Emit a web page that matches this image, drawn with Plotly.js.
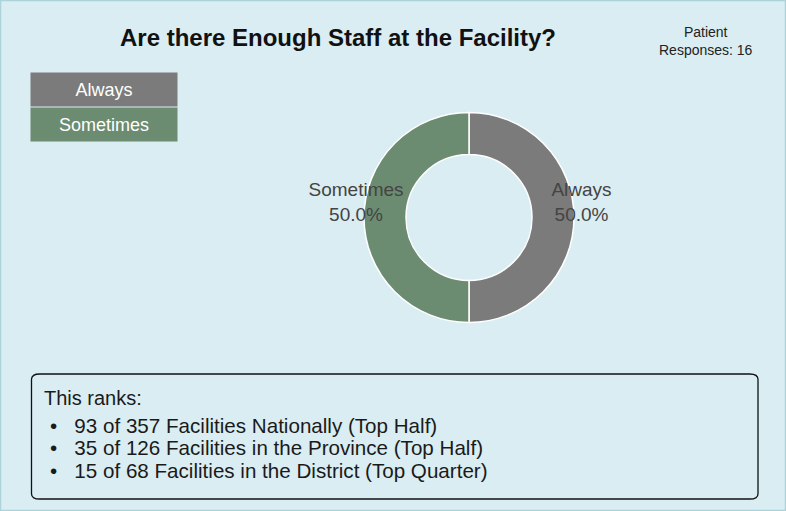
<!DOCTYPE html>
<html>
<head>
<meta charset="utf-8">
<script src="https://cdn.plot.ly/plotly-3.0.1.min.js"></script>
<style>html,body{margin:0;padding:0;background:#daedf2;}</style>
</head>
<body>
<div id="chart" style="width:786px;height:511px;"></div>
<script>
const categories = ["Always", "Sometimes"];
const counts = [8, 8];
const sliceColors = ["#7b7b7b", "#6b8c71"];
const chartTitle = "Are there Enough Staff at the Facility?";
const responsesText = "Patient<br>Responses: 16";
const rankHeader = "This ranks:";
const rankLines = [
  "93 of 357 Facilities Nationally (Top Half)",
  "35 of 126 Facilities in the Province (Top Half)",
  "15 of 68 Facilities in the District (Top Quarter)"
];

const W = 786, H = 511;
const px = v => v / W, py = v => 1 - v / H;
const FONT = "Arial, 'Liberation Sans', sans-serif";

// donut ring
const ring = {
  type: "pie",
  labels: categories,
  values: counts,
  marker: {colors: sliceColors, line: {color: "#ffffff", width: 1.5}},
  hole: 0.6,
  sort: false,
  direction: "clockwise",
  rotation: 0,
  textinfo: "none",
  showlegend: false,
  automargin: false,
  hoverinfo: "skip",
  domain: {x: [px(364), px(574)], y: [py(322.5), py(112.5)]}
};

// label layers for the same data (transparent slices, one label each)
const labelRadius = [71, 54];
const labelLayers = categories.map((c, k) => ({
  type: "pie",
  labels: categories,
  values: counts,
  marker: {colors: categories.map(() => "rgba(0,0,0,0)"), line: {width: 0}},
  sort: false,
  direction: "clockwise",
  rotation: 0,
  texttemplate: categories.map((_, i) => i === k ? "%{label}<br>%{percent:.1%}" : ""),
  textposition: "outside",
  outsidetextfont: {family: FONT, size: 19, color: "#444"},
  showlegend: false,
  automargin: false,
  hoverinfo: "skip",
  domain: {x: [px(469 - labelRadius[k]), px(469 + labelRadius[k])],
           y: [py(202 + labelRadius[k]), py(202 - labelRadius[k])]}
}));

const legendAnn = categories.map((c, i) => ({
  text: c,
  xref: "paper", yref: "paper",
  x: px(30), y: py(72 + i * 35),
  xanchor: "left", yanchor: "top",
  showarrow: false,
  width: 146, height: 33,
  borderpad: 0,
  bgcolor: sliceColors[i],
  font: {family: FONT, size: 18, color: "#ffffff"}
}));

const rankAnn = [{
  text: rankHeader, xref: "paper", yref: "paper", x: px(42), y: py(397.5),
  xanchor: "left", yanchor: "middle", showarrow: false, align: "left",
  font: {family: FONT, size: 20, color: "#1a1a1a"}
}].concat(rankLines.map((l, i) => ({
  text: "•\u00A0\u00A0\u00A0" + l, xref: "paper", yref: "paper",
  x: px(48), y: py(425 + i * 22.5),
  xanchor: "left", yanchor: "middle", showarrow: false, align: "left",
  font: {family: FONT, size: 20.6, color: "#1a1a1a"}
})));

function roundRect(x0, y0, x1, y1, r) {
  return `M${x0 + r},${y0} L${x1 - r},${y0} Q${x1},${y0} ${x1},${y0 + r} L${x1},${y1 - r} Q${x1},${y1} ${x1 - r},${y1} L${x0 + r},${y1} Q${x0},${y1} ${x0},${y1 - r} L${x0},${y0 + r} Q${x0},${y0} ${x0 + r},${y0} Z`;
}

const layout = {
  width: W, height: H,
  margin: {l: 0, r: 0, t: 0, b: 0},
  paper_bgcolor: "#daedf2",
  plot_bgcolor: "#daedf2",
  font: {family: FONT, color: "#444"},
  title: {
    text: "<b>" + chartTitle + "</b>",
    x: px(338), xanchor: "center",
    y: py(38), yanchor: "middle",
    font: {family: FONT, size: 24, color: "#111"}
  },
  shapes: [
    {type: "rect", xref: "paper", yref: "paper", x0: 0, x1: 1, y0: 0, y1: 1,
     line: {color: "#acd3da", width: 2.5}, fillcolor: "rgba(0,0,0,0)", layer: "below"},
    {type: "path", xref: "paper", yref: "paper",
     path: roundRect(px(31.5), py(499), px(758), py(374), 0.0105),
     line: {color: "#111", width: 1.3}, fillcolor: "rgba(0,0,0,0)"}
  ],
  annotations: legendAnn.concat([
    {text: responsesText, xref: "paper", yref: "paper", x: px(706), y: py(41),
     xanchor: "center", yanchor: "middle", showarrow: false, align: "center",
     font: {family: FONT, size: 14, color: "#222"}}
  ]).concat(rankAnn)
};

Plotly.newPlot("chart", [ring].concat(labelLayers), layout, {displayModeBar: false, staticPlot: true});
</script>
</body>
</html>
